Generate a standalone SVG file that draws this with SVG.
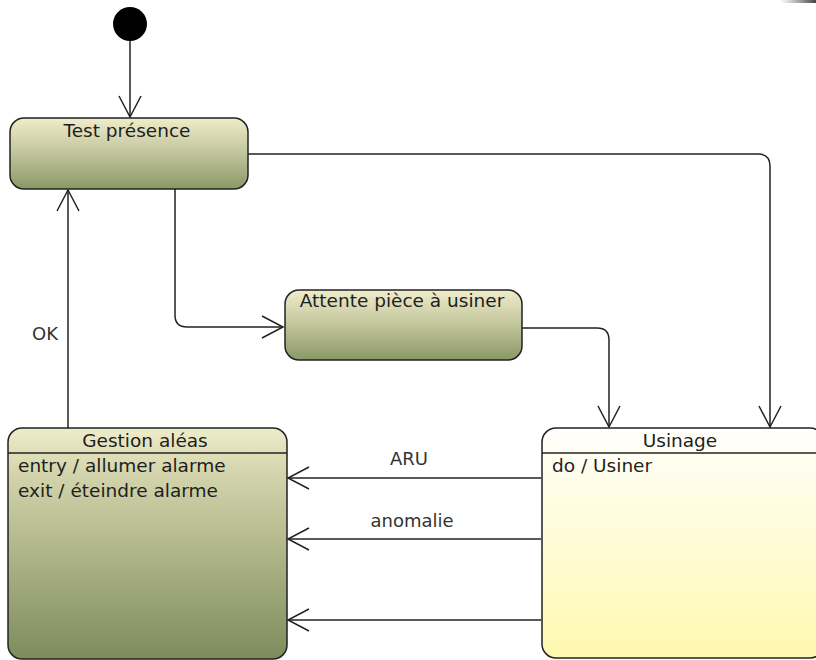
<svg xmlns="http://www.w3.org/2000/svg" width="816" height="660" viewBox="0 0 816 660">
<style>
.box{stroke:#222;stroke-width:1.5}
.title{font-family:"DejaVu Sans",sans-serif;font-size:18.5px;fill:#1e1e1e;text-anchor:middle}
.body{font-family:"DejaVu Sans",sans-serif;font-size:18.5px;fill:#1e1e1e}
.lbl{font-family:"DejaVu Sans",sans-serif;font-size:18px;fill:#333;text-anchor:middle}
.edge{fill:none;stroke:#222;stroke-width:1.5}
</style>
<defs>
<linearGradient id="olive" x1="0" y1="0" x2="0" y2="1">
<stop offset="0" stop-color="#efecca"/>
<stop offset="0.45" stop-color="#c6c9a0"/>
<stop offset="1" stop-color="#8a9866"/>
</linearGradient>
<linearGradient id="oliveTall" x1="0" y1="0" x2="0" y2="1">
<stop offset="0" stop-color="#efecca"/>
<stop offset="0.2" stop-color="#d3d4ab"/>
<stop offset="1" stop-color="#7e8c5c"/>
</linearGradient>
<linearGradient id="yellow" x1="0" y1="0" x2="0" y2="1">
<stop offset="0" stop-color="#fffffb"/>
<stop offset="1" stop-color="#fff8b0"/>
</linearGradient>
<linearGradient id="shade" x1="0" y1="0" x2="1" y2="0">
<stop offset="0" stop-color="#666" stop-opacity="0"/>
<stop offset="1" stop-color="#444"/>
</linearGradient>
<marker id="arr" viewBox="0 0 24 24" refX="22" refY="12" markerWidth="24" markerHeight="24" markerUnits="userSpaceOnUse" orient="auto">
<path d="M1,1 L22,12 L1,23" fill="none" stroke="#222" stroke-width="1.5"/>
</marker>
</defs>
<rect x="0" y="0" width="816" height="660" fill="#ffffff"/>
<rect x="780" y="0" width="36" height="3" fill="url(#shade)"/>

<g id="connectors">
<path class="edge" d="M130,41 L130,117" marker-end="url(#arr)"/>
<path class="edge" d="M248,154 L758,154 Q770,154 770,166 L770,427" marker-end="url(#arr)"/>
<path class="edge" d="M175,189 L175,315 Q175,327 187,327 L283,327" marker-end="url(#arr)"/>
<path class="edge" d="M522,328 L597,328 Q609,328 609,340 L609,427" marker-end="url(#arr)"/>
<path class="edge" d="M68,428 L68,190" marker-end="url(#arr)"/>
<path class="edge" d="M541,478 L288,478" marker-end="url(#arr)"/>
<path class="edge" d="M541,539 L288,539" marker-end="url(#arr)"/>
<path class="edge" d="M541,620 L288,620" marker-end="url(#arr)"/>
<text class="lbl" x="409" y="465">ARU</text>
<text class="lbl" x="412" y="527">anomalie</text>
<text class="lbl" x="45" y="340">OK</text>
</g>

<g id="initial">
<circle cx="130" cy="24" r="17" fill="#000"/>
</g>

<g id="test-presence">
<rect class="box" x="10" y="118" width="238" height="71" rx="14" fill="url(#olive)"/>
<text class="title" x="127" y="137">Test présence</text>
</g>

<g id="attente">
<rect class="box" x="285" y="290" width="237" height="70" rx="14" fill="url(#olive)"/>
<text class="title" x="402" y="307">Attente pièce à usiner</text>
</g>

<g id="gestion-aleas">
<rect class="box" x="8" y="428" width="279" height="231" rx="14" fill="url(#oliveTall)"/>
<line class="box" x1="8" y1="453" x2="287" y2="453"/>
<text class="title" x="145" y="447">Gestion aléas</text>
<text class="body" x="18" y="472">entry / allumer alarme</text>
<text class="body" x="18" y="497">exit / éteindre alarme</text>
</g>

<g id="usinage">
<rect class="box" x="542" y="428" width="282" height="230" rx="14" fill="url(#yellow)"/>
<line class="box" x1="542" y1="453" x2="824" y2="453"/>
<text class="title" x="680" y="447">Usinage</text>
<text class="body" x="552" y="472">do / Usiner</text>
</g>
</svg>
